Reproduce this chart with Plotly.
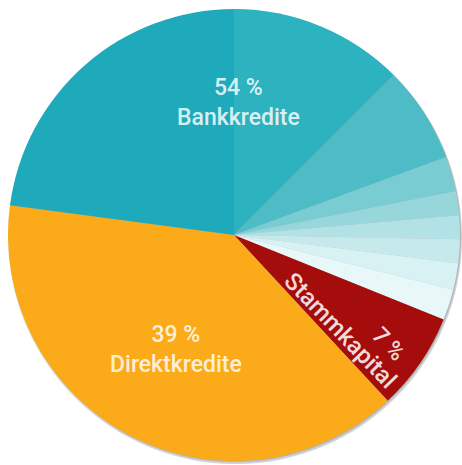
import plotly.graph_objects as go

# Slices in clockwise order starting at 12 o'clock
slice_labels = ["Bank 2", "Bank 3", "Bank 4", "Bank 5", "Bank 6", "Bank 7", "Bank 8", "Bank 9",
                "Stammkapital", "Direktkredite", "Bank 1"]
slice_values = [12.5, 6.9, 2.5, 1.7, 1.7, 1.7, 1.9, 2.2, 7.0, 39.0, 22.9]
slice_colors = ["#2db2c0", "#4dbcc6", "#78ccd2", "#97d7db", "#b2e2e5", "#c6eaec",
                "#d8f1f2", "#e8f7f8", "#a50d0c", "#fbaa1a", "#1eaaba"]

label_texts = ["54 %<br>Bankkredite", "39 %<br>Direktkredite", "Stammkapital", "7 %"]

W, H = 462, 465
cx, cy, r = 234, 235, 226

def px(x):
    return min(max(x / W, 0), 1)

def py(y):
    return min(max(1 - y / H, 0), 1)

def dom(x0, y0, rad):
    return dict(x=[px(x0 - rad), px(x0 + rad)], y=[py(y0 + rad), py(y0 - rad)])

fig = go.Figure()

# soft drop shadow layers
for dx, dy, rs, alpha in [(2, 3, 226, 0.12), (1, 2, 227, 0.16), (1, 1, 226, 0.22)]:
    fig.add_trace(go.Pie(
        values=[1], labels=["shadow"], sort=False,
        marker=dict(colors=[f"rgba(80,80,80,{alpha})"], line=dict(width=0)),
        textinfo="none", hoverinfo="skip", showlegend=False,
        domain=dom(cx + dx, cy + dy, rs),
    ))

fig.add_trace(go.Pie(
    labels=slice_labels, values=slice_values, sort=False,
    direction="clockwise", rotation=0,
    marker=dict(colors=slice_colors, line=dict(width=0)),
    textinfo="none", showlegend=False,
    domain=dom(cx, cy, r),
))

def label(x, y, text, angle=0, size=23, alpha=0.84):
    fig.add_annotation(x=px(x), y=py(y), text=text, showarrow=False,
                       xref="paper", yref="paper", xanchor="center", yanchor="middle",
                       textangle=angle,
                       font=dict(family="Roboto", size=size, weight=500,
                                 color=f"rgba(255,255,255,{alpha})"))

label(239, 102, label_texts[0])
label(176, 349, label_texts[1])
label(340, 330, label_texts[2], angle=46, size=24, alpha=0.86)
label(389, 344, label_texts[3], angle=46, size=23, alpha=0.86)

fig.update_layout(width=W, height=H, margin=dict(l=0, r=0, t=0, b=0),
                  paper_bgcolor="white", plot_bgcolor="white")

fig.write_html("out.html")
